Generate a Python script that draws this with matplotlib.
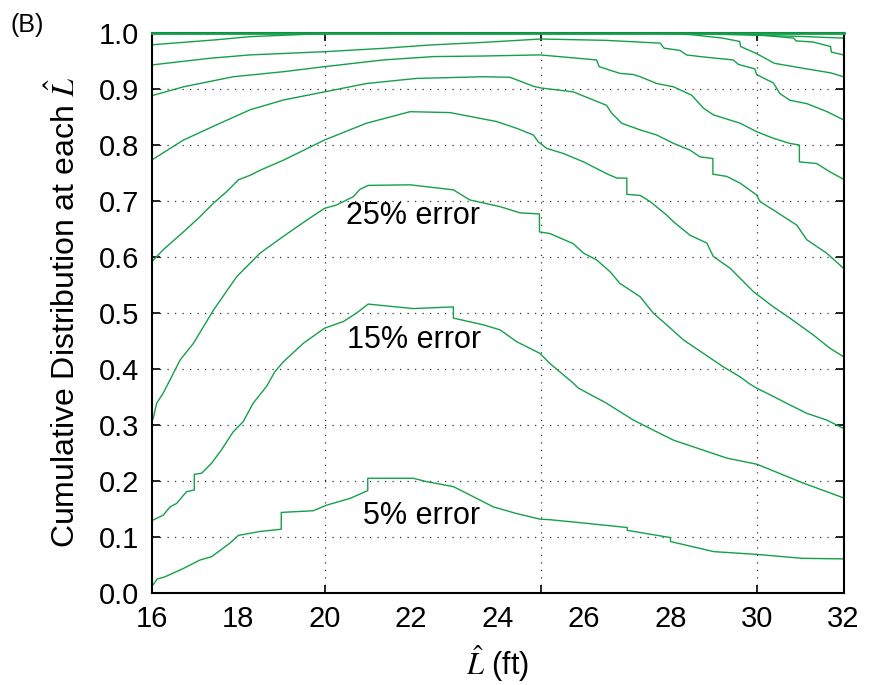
import matplotlib

matplotlib.use("Agg")

import matplotlib.pyplot as plt
import numpy as np

plt.rcParams["font.family"] = ["Liberation Sans", "DejaVu Sans"]
plt.rcParams["mathtext.fontset"] = "stix"

# curves, bottom to top (x = L-hat in ft, y = cumulative distribution)
x_j = [16, 16.04, 16.13, 16.31, 16.74, 17.12, 17.39, 17.81, 18.01, 18.51, 19.0, 19.0, 19.74, 20.05,
       20.59, 21.0, 21.0, 22.05, 22.36, 22.98, 23.29, 23.9, 24.44, 24.98, 25.21, 26.0, 27.0, 27.0,
       28.0, 28.0, 29.0, 30.0, 31.05, 32]
y_j = [0.013, 0.014, 0.024, 0.028, 0.043, 0.058, 0.064, 0.088, 0.102, 0.109, 0.113, 0.143, 0.146, 0.156,
       0.168, 0.182, 0.204, 0.204, 0.198, 0.189, 0.177, 0.153, 0.141, 0.131, 0.130, 0.124, 0.116, 0.111,
       0.098, 0.091, 0.073, 0.068, 0.061, 0.060]

x_i = [16, 16.27, 16.43, 16.58, 16.81, 16.99, 16.99, 17.16, 17.39, 17.62, 17.89, 18.12, 18.35, 18.66,
       18.85, 19.05, 19.51, 20.0, 20.44, 20.74, 21.01, 22.05, 22.98, 22.98, 23.67, 24.06, 24.44, 24.98,
       25.21, 25.75, 25.87, 26.52, 27.14, 27.68, 28.07, 28.84, 29.3, 30.0, 31.05, 32]
y_i = [0.128, 0.138, 0.153, 0.159, 0.180, 0.183, 0.211, 0.213, 0.231, 0.255, 0.287, 0.305, 0.338, 0.368,
       0.394, 0.412, 0.445, 0.472, 0.484, 0.499, 0.515, 0.507, 0.510, 0.490, 0.478, 0.469, 0.448, 0.427,
       0.409, 0.374, 0.365, 0.338, 0.308, 0.287, 0.272, 0.252, 0.240, 0.229, 0.196, 0.169]

x_h = [16, 16.04, 16.12, 16.27, 16.43, 16.66, 16.97, 17.43, 17.97, 18.51, 19.05, 19.59, 20.0, 20.28,
       20.67, 20.82, 21.01, 21.98, 22.98, 23.36, 24.06, 24.52, 24.97, 24.97, 25.21, 25.75, 25.99, 26.29,
       26.6, 26.83, 27.3, 27.6, 27.91, 28.3, 28.76, 29.22, 29.61, 29.84, 29.99, 30.38, 30.76, 31.15,
       31.61, 32]
y_h = [0.305, 0.311, 0.338, 0.356, 0.380, 0.415, 0.445, 0.504, 0.564, 0.606, 0.636, 0.665, 0.686, 0.692,
       0.707, 0.720, 0.727, 0.728, 0.719, 0.701, 0.689, 0.678, 0.676, 0.644, 0.641, 0.623, 0.606, 0.594,
       0.573, 0.552, 0.528, 0.499, 0.478, 0.451, 0.427, 0.403, 0.385, 0.372, 0.365, 0.350, 0.335, 0.320,
       0.308, 0.293]

x_g = [16, 16.27, 16.74, 17.12, 17.43, 17.74, 18.01, 18.28, 18.51, 19.05, 20.0, 20.97, 21.98, 22.9,
       23.98, 24.44, 24.83, 24.94, 25.14, 25.52, 25.99, 26.52, 26.76, 26.99, 26.99, 27.3, 27.53, 27.91,
       28.07, 28.45, 28.84, 28.99, 29.38, 29.92, 30.38, 30.76, 31.3, 31.69, 32]
y_g = [0.590, 0.612, 0.644, 0.671, 0.695, 0.716, 0.737, 0.745, 0.754, 0.772, 0.808, 0.838, 0.8586, 0.857,
       0.841, 0.829, 0.817, 0.805, 0.793, 0.784, 0.769, 0.748, 0.740, 0.740, 0.711, 0.709, 0.698, 0.674,
       0.662, 0.638, 0.624, 0.600, 0.579, 0.537, 0.510, 0.490, 0.460, 0.436, 0.421]

x_f = [16, 16.74, 17.5, 18.28, 19.05, 20.0, 20.98, 22.13, 23.67, 24.29, 24.83, 25.0, 25.75, 26.52,
       26.64, 26.87, 27.3, 27.68, 28.07, 28.45, 28.68, 28.98, 28.98, 29.3, 29.61, 29.99, 30.07, 30.38,
       30.92, 31.15, 31.61, 32]
y_f = [0.772, 0.808, 0.835, 0.862, 0.8795, 0.894, 0.909, 0.918, 0.921, 0.920, 0.904, 0.901, 0.894, 0.870,
       0.856, 0.838, 0.826, 0.817, 0.802, 0.790, 0.778, 0.775, 0.747, 0.743, 0.731, 0.710, 0.698, 0.683,
       0.656, 0.630, 0.606, 0.579]

x_e = [16, 16.74, 17.89, 19.05, 20.0, 21.36, 22.52, 23.67, 24.98, 26.29, 26.35, 26.83, 27.14, 27.3,
       27.68, 28.07, 28.49, 28.76, 28.99, 29.61, 29.99, 30.38, 30.76, 30.98, 30.98, 31.38, 31.69, 32]
y_e = [0.887, 0.903, 0.921, 0.930, 0.939, 0.951, 0.957, 0.958, 0.960, 0.951, 0.939, 0.927, 0.925, 0.921,
       0.909, 0.903, 0.888, 0.865, 0.853, 0.838, 0.823, 0.811, 0.802, 0.799, 0.769, 0.766, 0.751, 0.738]

x_d = [16, 17.35, 18.28, 20.0, 21.36, 22.44, 23.67, 25.0, 26.5, 27.76, 27.85, 28.22, 28.37, 28.68,
       29.45, 29.57, 29.95, 29.99, 30.22, 30.38, 30.45, 30.53, 30.76, 31.15, 31.61, 32]
y_d = [0.942, 0.954, 0.960, 0.9657, 0.9717, 0.9777, 0.9823, 0.9884, 0.986, 0.981, 0.972, 0.968, 0.960, 0.957,
       0.951, 0.943, 0.935, 0.925, 0.916, 0.910, 0.901, 0.891, 0.879, 0.873, 0.859, 0.844]

x_c = [16, 17.5, 18.28, 19.66, 20.5, 27.5, 28.5, 29.2, 29.6, 29.62, 30.0, 30.4, 31.15, 31.7, 32]
y_c = [0.978, 0.987, 0.9926, 0.997, 0.9995, 0.9995, 0.996, 0.990, 0.984, 0.975, 0.962, 0.945, 0.935,
       0.928, 0.921]

x_b = [16, 29.0, 30.0, 30.85, 30.9, 31.3, 31.7, 31.72, 32]
y_b = [1.0, 1.0, 0.996, 0.990, 0.985, 0.983, 0.975, 0.965, 0.960]

x_a = [16, 27.5, 29.0, 30.0, 31.0, 32]
y_a = [1.0, 1.0, 0.997, 0.995, 0.993, 0.990]

x_top = [16, 32]
y_top = [1.0, 1.0]

curves = [(x_j, y_j), (x_i, y_i), (x_h, y_h), (x_g, y_g), (x_f, y_f), (x_e, y_e),
          (x_d, y_d), (x_c, y_c), (x_b, y_b), (x_a, y_a)]

labels = ["5% error", "15% error", "25% error"]
label_x = [22.25, 22.07, 22.05]
label_y = [0.137, 0.451, 0.672]

x_tick_labels = list(range(16, 33, 2))
x_grid = [20, 25, 30]
y_ticks = np.round(np.arange(0, 1.01, 0.1), 1)

green = "#14a04a"

fig = plt.figure(figsize=(8.71, 6.85), dpi=100)
ax = fig.add_axes([151.5 / 871, 92.5 / 685, 692 / 871, 560 / 685])

for xs, ys in curves:
    ax.plot(xs, ys, color=green, lw=1.0)
ax.plot(x_top, y_top, color=green, lw=2.0, clip_on=False, zorder=5)

for txt, tx, ty in zip(labels, label_x, label_y):
    ax.text(tx, ty, txt, fontsize=22, ha="center", va="center")

ax.set_xlim(16, 32)
ax.set_ylim(0, 1)

ax.xaxis.remove_overlapping_locs = False
ax.set_xticks(x_grid)
ax.set_xticklabels([])
ax.set_xticks(x_tick_labels, minor=True)
ax.set_xticklabels([str(v) for v in x_tick_labels], minor=True)
ax.set_yticks(y_ticks)
ax.set_yticklabels([f"{v:.1f}" for v in y_ticks])

ax.tick_params(which="major", direction="in", top=True, right=True, length=6, width=1.2,
               labelsize=21, pad=9)
ax.tick_params(which="minor", length=0, labelsize=21, pad=9)
ax.grid(True, which="major", color="#333333", linestyle=(0, (1, 5)), lw=0.9)
for s in ax.spines.values():
    s.set_linewidth(1.5)

ax.set_ylabel(r"Cumulative Distribution at each $\hat{L}$", fontsize=23)
ax.yaxis.set_label_coords(-0.100, 0.5)
ax.set_xlabel(r"$\hat{L}$ (ft)", fontsize=22)
ax.xaxis.set_label_coords(0.5, -0.09)

fig.text(10 / 871, 1 - 25 / 685, "(B)", fontsize=18, va="center", ha="left")

fig.savefig("out.png", dpi=100)
plt.close(fig)
